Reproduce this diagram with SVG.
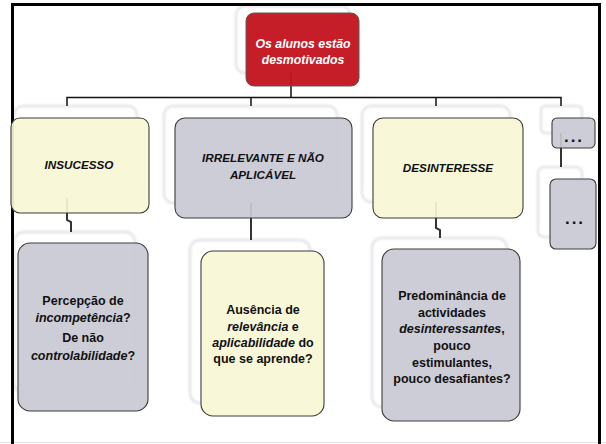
<svg xmlns="http://www.w3.org/2000/svg" width="606" height="444" viewBox="0 0 606 444">
<defs>
<filter id="soft" x="-10%" y="-10%" width="120%" height="120%">
<feGaussianBlur stdDeviation="1.2"/>
</filter>
</defs>
<style>
.ghost{fill:#ffffff;stroke:#e4e4ea;stroke-width:2.5;filter:url(#soft)}
.y{fill:#f8f7d6;fill-opacity:0.93;stroke:#3c3c3c;stroke-width:1.1}
.g{fill:#c9c9d4;fill-opacity:0.93;stroke:#3c3c3c;stroke-width:1.1}
.r{fill:#c3121c;fill-opacity:0.95;stroke:#5a5a5a;stroke-width:1}
text{font-family:"Liberation Sans",Arial,sans-serif;font-weight:bold;fill:#111111;text-anchor:middle}
.t2{font-size:11.7px;font-style:italic}
.t3{font-size:12.5px}
.it{font-style:italic}
.top{font-size:12.3px;font-style:italic;fill:#ffffff}
.dots{font-size:17px;letter-spacing:2px}
.c{fill:none;stroke:#111111;stroke-width:1.5}
.c2{fill:none;stroke:#333333;stroke-width:2}
</style>
<rect x="0" y="0" width="606" height="444" fill="#ffffff"/>
<line x1="0" y1="442.5" x2="606" y2="442.5" stroke="#e2e2e2" stroke-width="1"/>

<g id="ghosts">
<rect class="ghost" x="236" y="6" width="114" height="67" rx="9"/>
<rect class="ghost" x="14" y="106" width="123" height="92" rx="9"/>
<rect class="ghost" x="164" y="106" width="173" height="97" rx="9"/>
<rect class="ghost" x="362" y="106" width="148" height="96" rx="9"/>
<rect class="ghost" x="541" y="106" width="41" height="27" rx="4"/>
<rect class="ghost" x="538" y="167" width="44" height="70" rx="6"/>
<rect class="ghost" x="14" y="232" width="121" height="161" rx="10"/>
<rect class="ghost" x="190" y="240" width="120" height="163" rx="10"/>
<rect class="ghost" x="372" y="238" width="135" height="169" rx="10"/>
</g>

<path d="M12.5,444 V4.5 H599.5 V444" fill="none" stroke="#000000" stroke-width="3"/>

<g id="connectors">
<path class="c" d="M291,73 V97.5"/>
<path class="c" d="M67,106 V97.5 H561 V106"/>
<path class="c" d="M251,97.5 V106"/>
<path class="c" d="M436,97.5 V106"/>
<path class="c2" d="M67,198 V220 L71,222 V232"/>
<path class="c2" d="M251,203 V240"/>
<path class="c2" d="M436,202 V228 L440,230 V238"/>
<path class="c2" d="M561,133 V167"/>
</g>

<g id="n-root">
<rect class="r" x="246" y="13" width="113" height="73" rx="8"/>
<text class="top" x="303" y="47.5">Os alunos estão</text>
<text class="top" x="303" y="63.5">desmotivados</text>
</g>

<g id="n-insucesso">
<rect class="y" x="11" y="118" width="138" height="95" rx="9"/>
<text class="t2" x="79" y="169">INSUCESSO</text>
</g>

<g id="n-irrelevante">
<rect class="g" x="175" y="118" width="177" height="100" rx="10"/>
<text class="t2" x="263" y="161.5">IRRELEVANTE E NÃO</text>
<text class="t2" x="263" y="178.5">APLICÁVEL</text>
</g>

<g id="n-desinteresse">
<rect class="y" x="373" y="118" width="150" height="100" rx="10"/>
<text class="t2" x="448" y="172">DESINTERESSE</text>
</g>

<g id="n-dots1">
<rect class="g" x="552" y="118" width="43" height="30" rx="5"/>
<text class="dots" x="574" y="141.5">...</text>
</g>

<g id="n-dots2">
<rect class="g" x="550" y="179" width="46" height="70" rx="6"/>
<text class="dots" x="575" y="223.5">...</text>
</g>

<g id="n-percepcao">
<rect class="g" x="18" y="243" width="130" height="168" rx="12"/>
<text class="t3" x="83" y="305">Percepção de</text>
<text class="t3" x="83" y="322"><tspan class="it">incompetência</tspan>?</text>
<text class="t3" x="83" y="342">De não</text>
<text class="t3" x="83" y="360"><tspan class="it">controlabilidade</tspan>?</text>
</g>

<g id="n-ausencia">
<rect class="y" x="201" y="251" width="123" height="165" rx="12"/>
<text class="t3" x="263" y="314">Ausência de</text>
<text class="t3" x="263" y="330.5"><tspan class="it">relevância</tspan> e</text>
<text class="t3" x="263" y="347"><tspan class="it">aplicabilidade</tspan> do</text>
<text class="t3" x="263" y="363">que se aprende?</text>
</g>

<g id="n-predominancia">
<rect class="g" x="382" y="249" width="138" height="172" rx="12"/>
<text class="t3" x="452" y="299.5">Predominância de</text>
<text class="t3" x="452" y="316.5">actividades</text>
<text class="t3" x="452" y="333"><tspan class="it">desinteressantes</tspan>,</text>
<text class="t3" x="452" y="350">pouco</text>
<text class="t3" x="452" y="366.5">estimulantes,</text>
<text class="t3" x="452" y="383">pouco desafiantes?</text>
</g>
</svg>
